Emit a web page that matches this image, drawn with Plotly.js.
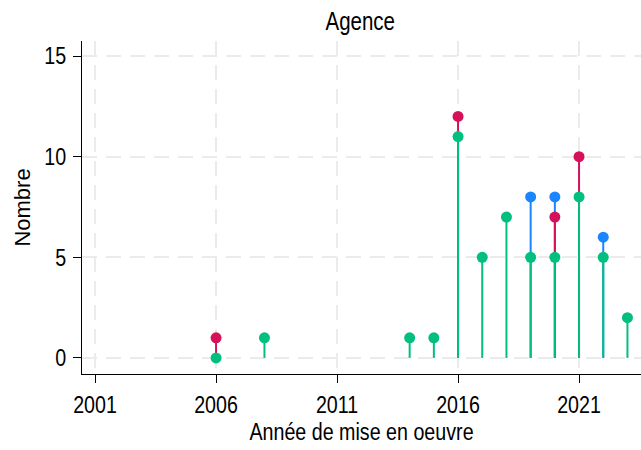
<!DOCTYPE html>
<html>
<head>
<meta charset="utf-8">
<script src="https://cdn.plot.ly/plotly-3.0.1.min.js"></script>
<style>html,body{margin:0;padding:0;background:#fff;}#chart{width:641px;height:450px;}</style>
</head>
<body>
<div id="chart"></div>
<script>
// Data
const blueYears  = [2019, 2020, 2022];
const blueValues = [8, 8, 6];
const redYears   = [2006, 2016, 2020, 2021];
const redValues  = [1, 12, 7, 10];
const greenYears  = [2006, 2008, 2014, 2015, 2016, 2017, 2018, 2019, 2020, 2021, 2022, 2023];
const greenValues = [0, 1, 1, 1, 11, 5, 7, 5, 5, 8, 5, 2];
const xTicks = [2001, 2006, 2011, 2016, 2021];
const yTicks = [0, 5, 10, 15];

const FONT = "Liberation Sans, Arial, sans-serif";
const NARROW = 0.82;

function stems(xs, ys, color) {
  const sx = [], sy = [];
  xs.forEach((x, i) => { sx.push(x, x, null); sy.push(0, ys[i], null); });
  return {x: sx, y: sy, mode: 'lines', line: {color: color, width: 2}, hoverinfo: 'skip', showlegend: false, type: 'scatter'};
}
function dots(xs, ys, color) {
  return {x: xs, y: ys, mode: 'markers', marker: {color: color, size: 11, line: {width: 0}}, showlegend: false, type: 'scatter'};
}
const cBlue = '#1a85ff', cRed = '#d41159', cGreen = '#00bf7f';
const data = [
  stems(blueYears, blueValues, cBlue), dots(blueYears, blueValues, cBlue),
  stems(redYears, redValues, cRed), dots(redYears, redValues, cRed),
  stems(greenYears, greenValues, cGreen), dots(greenYears, greenValues, cGreen)
];
const GRID = '#ebebeb';
const layout = {
  width: 641, height: 450,
  margin: {l: 82, r: 0, t: 41, b: 76},
  paper_bgcolor: '#fff', plot_bgcolor: '#fff',
  font: {family: FONT, size: 24, color: '#000'},
  title: {text: 'Agence', x: 0.562, xanchor: 'center', y: 0.952, yanchor: 'middle', font: {family: FONT, size: 25, color: '#000'}},
  xaxis: {
    range: [2000.46, 2023.56], tickvals: xTicks, ticktext: xTicks.map(String),
    showline: true, linecolor: '#000', linewidth: 1, ticks: 'outside', ticklen: 8, tickcolor: '#000',
    showgrid: true, gridcolor: GRID, gridwidth: 2, griddash: '15px,9px', zeroline: false,
    tickfont: {family: FONT, size: 24}, ticklabelstandoff: 1,
    title: {text: 'Année de mise en oeuvre', font: {family: FONT, size: 24}, standoff: 6}
  },
  yaxis: {
    range: [-0.8, 15.75], tickvals: yTicks,
    showline: true, linecolor: '#000', linewidth: 1, ticks: 'outside', ticklen: 8, tickcolor: '#000',
    showgrid: true, gridcolor: GRID, gridwidth: 2, griddash: '15px,9px', zeroline: false,
    tickfont: {family: FONT, size: 24}, ticklabelstandoff: 2,
    title: {text: 'Nombre', font: {family: FONT, size: 22}, standoff: 2}
  }
};
function condense(gd) {
  gd.querySelectorAll('svg text').forEach(t => {
    if (t.classList.contains('ytitle')) return;
    const x = parseFloat(t.getAttribute('x') || '0');
    const tr = t.getAttribute('transform') || '';
    t.setAttribute('transform', (tr + ` translate(${x},0) scale(${NARROW},1) translate(${-x},0)`).trim());
  });
}
Plotly.newPlot('chart', data, layout, {staticPlot: true, displayModeBar: false}).then(condense);
</script>
</body>
</html>
